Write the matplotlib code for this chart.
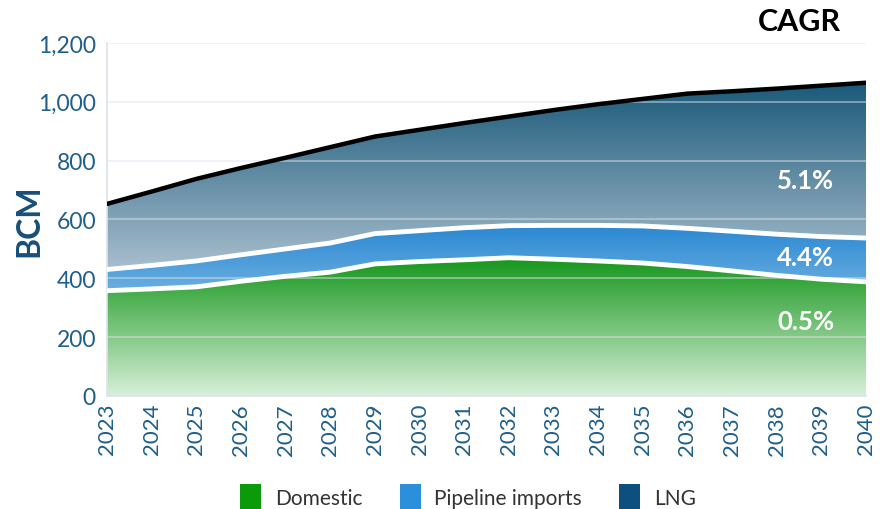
import numpy as np
import matplotlib
matplotlib.use("Agg")
import matplotlib.pyplot as plt
from matplotlib.colors import LinearSegmentedColormap
from matplotlib.patches import Patch
from matplotlib.ticker import FuncFormatter

plt.rcParams['font.family'] = ['Lato', 'DejaVu Sans']

# %% data (BCM)
years = list(range(2023, 2041))
domestic = [358, 364, 371, 390, 407, 421, 449, 457, 463, 470, 465, 459, 452, 440, 425, 410, 397, 388]
pipeline = [72, 80, 88, 90, 93, 99, 103, 105, 109, 109, 115, 121, 126, 130, 135, 140, 145, 149]
lng = [223, 251, 279, 295, 310, 326, 330, 343, 356, 371, 392, 412, 432, 458, 476, 495, 513, 528]
cagr_labels = ['0.5%', '4.4%', '5.1%']
series_names = ['Domestic', 'Pipeline imports', 'LNG']

x = np.array(years)
d = np.array(domestic)
p_top = d + np.array(pipeline)
total = p_top + np.array(lng)

tick_col = '#1f5f8a'

fig = plt.figure(figsize=(8.8, 5.1), dpi=100)
ax = fig.add_axes([0.1216, 0.2216, 0.8625, 0.6921])
ax.set_xlim(2023, 2040)
ax.set_ylim(0, 1200)


def gradient_fill(lower, upper, c_top, c_bot, y_top, y_bot):
    poly = ax.fill_between(x, lower, upper, color='none', lw=0, zorder=1)
    cmap = LinearSegmentedColormap.from_list('g', [c_bot, c_top])
    grad = np.linspace(0, 1, 256).reshape(-1, 1)
    im = ax.imshow(grad, cmap=cmap, aspect='auto', origin='lower',
                   extent=[2023, 2040, y_bot, y_top], zorder=1)
    im.set_clip_path(poly.get_paths()[0], transform=ax.transData)


gradient_fill(np.zeros_like(d), d, '#15961c', '#d8f0d8', 470, 0)
gradient_fill(d, p_top, '#2a88d2', '#6aaee0', 580, 360)
gradient_fill(p_top, total, '#195878', '#aac0cf', 1070, 420)

# gridlines show faintly over the areas
for yv in range(200, 1201, 200):
    ax.axhline(yv, color='#dde3ec', lw=1.2, alpha=0.55, zorder=2)

# boundary lines
ax.plot(x, d, color='white', lw=3.5, zorder=3)
ax.plot(x, p_top, color='white', lw=3.5, zorder=3)
ax.plot(x, total, color='black', lw=3.2, zorder=4, solid_capstyle='round')

# CAGR labels
label_y = [255, 473, 735]
for lab, yv in zip(cagr_labels, label_y):
    ax.text(2038.65, yv, lab, color='white', fontsize=18.5, fontweight='bold',
            ha='center', va='center', zorder=5)
fig.text(0.909, 0.956, 'CAGR', fontsize=22, fontweight='bold', ha='center', va='center')

# axes styling
ax.set_xticks(years)
ax.set_xticklabels([str(v) for v in years], rotation=90, fontsize=16, color=tick_col)
ax.set_yticks(range(0, 1201, 200))
ax.yaxis.set_major_formatter(FuncFormatter(lambda v, pos: f'{int(v):,}'))
ax.tick_params(axis='y', labelsize=16.5, labelcolor=tick_col, length=0, pad=8)
ax.tick_params(axis='x', length=0, pad=5)
for s in ['top', 'right']:
    ax.spines[s].set_visible(False)
for s in ['left', 'bottom']:
    ax.spines[s].set_color('#dde3ec')
    ax.spines[s].set_linewidth(1.2)
ax.set_ylabel('BCM', fontsize=23, fontweight='bold', color='#184f78', labelpad=-4)

handles = [Patch(facecolor=c, edgecolor='none') for c in ['#0a9a0a', '#2b8fdb', '#0d5080']]
fig.legend(handles, series_names, loc='center', bbox_to_anchor=(0.532, 0.024), ncol=3,
           frameon=False, fontsize=15, handlelength=1.0, handleheight=1.5,
           columnspacing=1.8, handletextpad=0.65, labelcolor='#333333')

fig.savefig('out.png', dpi=100)
